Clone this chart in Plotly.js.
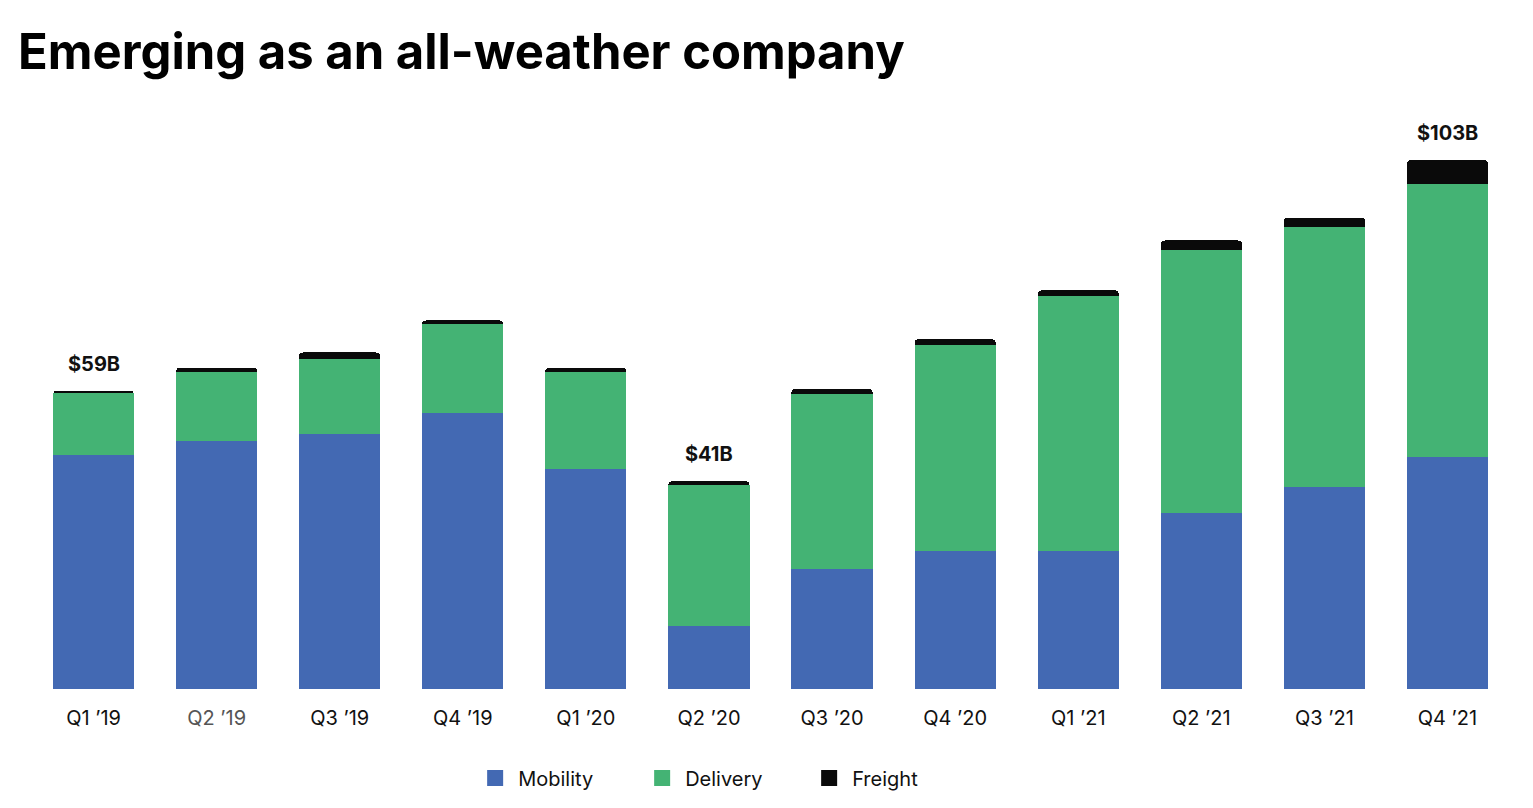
<!DOCTYPE html>
<html>
<head>
<meta charset="utf-8">
<script src="https://cdn.plot.ly/plotly-3.0.1.min.js"></script>
<style>
  html, body { margin: 0; padding: 0; background: #fff; }
  #chart { width: 1533px; height: 808px; }
</style>
</head>
<body>
<div id="chart"></div>
<script>
// quarters and tick labels
var quarters = ["Q1 19", "Q2 19", "Q3 19", "Q4 19", "Q1 20", "Q2 20", "Q3 20", "Q4 20", "Q1 21", "Q2 21", "Q3 21", "Q4 21"];
var tickLabels = ["Q1 \u201919", "<span style='color:#555'>Q2 \u201919</span>", "Q3 \u201919", "Q4 \u201919",
                  "Q1 \u201920", "Q2 \u201920", "Q3 \u201920", "Q4 \u201920",
                  "Q1 \u201921", "Q2 \u201921", "Q3 \u201921", "Q4 \u201921"];

// gross bookings run-rate, $B
var mobility = [45.9, 48.8, 50.0, 54.3, 43.3, 12.4, 23.5, 27.1, 27.1, 34.5, 39.6, 45.5];
var delivery = [12.2, 13.5, 14.9, 17.3, 19.0, 27.6, 34.5, 40.4, 50.0, 51.8, 51.2, 53.7];
var freight  = [0.5, 0.8, 1.2, 0.8, 0.8, 0.8, 1.0, 1.2, 1.2, 1.8, 1.8, 4.7];

var seriesNames = ["Mobility", "Delivery", "Freight"];
var seriesColors = ["#4369b3", "#44b374", "#0a0a0a"];

// call-outs
var calloutIdx = [0, 5, 11];
var calloutText = ["$59B", "$41B", "$103B"];

var font = "Inter, 'Open Sans', sans-serif";

var data = [mobility, delivery, freight].map(function (vals, i) {
  return {x: quarters, y: vals, name: seriesNames[i], type: "bar",
          marker: {color: seriesColors[i]}, showlegend: false, hoverinfo: "y+name"};
});

// legend entries with bigger square swatches
seriesNames.forEach(function (n, i) {
  data.push({x: [null], y: [null], name: n, type: "scatter", mode: "markers",
             marker: {symbol: "square", size: 16, color: seriesColors[i], line: {width: 0}},
             hoverinfo: "skip"});
});

var annotations = calloutIdx.map(function (i, k) {
  return {
    x: quarters[i],
    y: mobility[i] + delivery[i] + freight[i],
    text: "<b>" + calloutText[k] + "</b>",
    showarrow: false,
    yanchor: "bottom",
    yshift: 13,
    font: {family: font, size: 20, color: "#111"}
  };
});

var layout = {
  width: 1533,
  height: 808,
  paper_bgcolor: "#fff",
  plot_bgcolor: "#fff",
  margin: {l: 32, r: 24, t: 129, b: 118},
  barmode: "stack",
  bargap: 0.34,
  barcornerradius: 4,
  title: {
    text: "<b>Emerging as an all-weather company</b>",
    x: 18 / 1533, xref: "container", xanchor: "left",
    y: 1 - 52 / 808, yref: "container", yanchor: "middle",
    font: {family: font, size: 49, color: "#000"}
  },
  xaxis: {
    tickmode: "array",
    tickvals: quarters,
    ticktext: tickLabels,
    tickfont: {family: font, size: 20, color: "#111"},
    ticklabelstandoff: 15,
    showline: false, showgrid: false, zeroline: false,
    ticks: "", ticklen: 0
  },
  yaxis: {
    range: [0, 110],
    visible: false,
    showgrid: false, zeroline: false
  },
  showlegend: true,
  legend: {
    orientation: "h",
    x: 0.298, xanchor: "left",
    y: -0.157, yanchor: "middle",
    itemwidth: 36,
    entrywidth: 116,
    traceorder: "normal",
    font: {family: font, size: 20, color: "#111"}
  },
  annotations: annotations
};

Plotly.newPlot("chart", data, layout, {displayModeBar: false});
</script>
</body>
</html>
